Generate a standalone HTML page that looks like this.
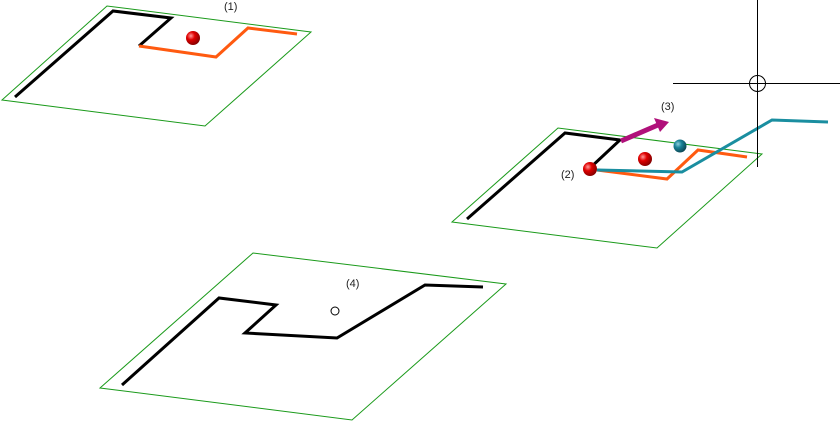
<!DOCTYPE html>
<html><head><style>body{margin:0;background:#fff}svg{display:block}</style></head><body>
<svg width="840" height="425" viewBox="0 0 840 425" xmlns="http://www.w3.org/2000/svg" font-family="Liberation Sans, sans-serif" font-size="11">
<defs>
<radialGradient id="r" cx="0.35" cy="0.35" r="0.7"><stop offset="0" stop-color="#ff9a9a"/><stop offset="0.4" stop-color="#e00000"/><stop offset="1" stop-color="#800000"/></radialGradient>
<radialGradient id="t" cx="0.35" cy="0.35" r="0.7"><stop offset="0" stop-color="#8fd0dc"/><stop offset="0.4" stop-color="#1a8499"/><stop offset="1" stop-color="#0b4450"/></radialGradient>
</defs>
<g fill="none" stroke="#1a9a1a" stroke-width="1">
<polygon points="2,100 107,6 311,32 205,126"/>
<polygon points="452,222 558,128 762,154 657,248"/>
<polygon points="100,388 253,253 506,284 352,420"/>
</g>
<g fill="none" stroke-width="3" stroke-linejoin="miter">
<polyline stroke="#000" points="15,97 113,11 171,18 139,46"/>
<polyline stroke="#ff5a10" points="139,46 216,57 248,28 297,34"/>
<polyline stroke="#000" points="467,219 565,133 620,140 590,168"/>
<polyline stroke="#ff5a10" points="597,170 667,179 698,150 747,157"/>
<polyline stroke="#1a8ea0" points="597,170 682,172 772,120 828,122"/>
<polyline stroke="#000" points="122,385 219,298 276,305 245,333 337,338 425,285 483,287"/>
</g>
<g stroke="#000" stroke-width="1" fill="none">
<line x1="757.5" y1="0" x2="757.5" y2="167"/>
<line x1="673" y1="83.5" x2="840" y2="83.5"/>
<circle cx="757.5" cy="83.5" r="8"/>
<circle cx="335" cy="311" r="4"/>
</g>
<line x1="621" y1="141" x2="658" y2="125" stroke="#b0107a" stroke-width="5"/>
<polygon points="654,118 669,122 660,132" fill="#b0107a"/>
<circle cx="193" cy="38" r="7" fill="url(#r)"/>
<circle cx="590" cy="169" r="7" fill="url(#r)"/>
<circle cx="645" cy="159" r="7" fill="url(#r)"/>
<circle cx="680" cy="146" r="6.5" fill="url(#t)"/>
<g fill="#222">
<text x="224" y="10">(1)</text>
<text x="561" y="178">(2)</text>
<text x="661" y="110">(3)</text>
<text x="346" y="287">(4)</text>
</g>
</svg>
</body></html>
